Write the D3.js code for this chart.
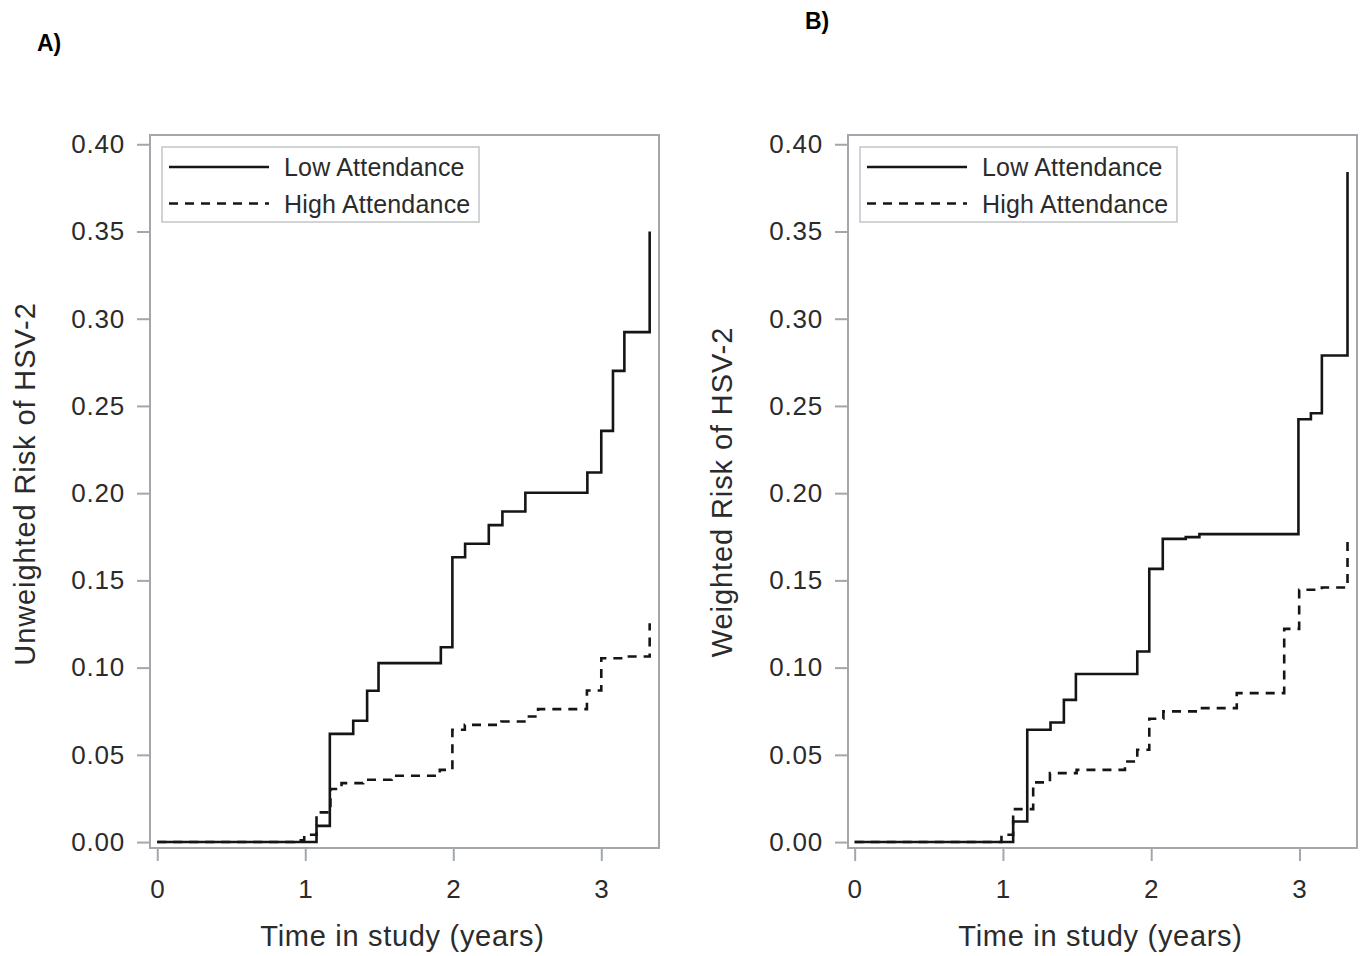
<!DOCTYPE html>
<html>
<head>
<meta charset="utf-8">
<script src="https://cdn.jsdelivr.net/npm/d3@7"></script>
<style>
    body { margin: 0; background: #fff; }
    svg { display: block; font-family: "Liberation Sans", Arial, sans-serif; }
</style>
</head>
<body>
<svg width="1363" height="956"></svg>
<script>
// Time in study (years) where each step happens, and the risk after the step
var yTicks = [0, 0.05, 0.10, 0.15, 0.20, 0.25, 0.30, 0.35, 0.40];
var xTicks = [0, 1, 2, 3];
var seriesNames = ["Low Attendance", "High Attendance"];

var lowA = [
    [0, 0], [1.076, 0.0093], [1.166, 0.062], [1.324, 0.0695], [1.418, 0.0867],
    [1.495, 0.1026], [1.916, 0.1117], [1.994, 0.1633], [2.080, 0.171],
    [2.240, 0.1817], [2.332, 0.1895], [2.487, 0.2002], [2.906, 0.2118],
    [3.0, 0.2357], [3.079, 0.2701], [3.156, 0.2923], [3.327, 0.35]
];

var highA = [
    [0, 0], [0.924, 0.001], [0.993, 0.0042], [1.076, 0.017], [1.17, 0.0304],
    [1.245, 0.0338], [1.391, 0.0357], [1.583, 0.038], [1.909, 0.0414],
    [1.994, 0.0644], [2.078, 0.0672], [2.325, 0.0691], [2.494, 0.072],
    [2.573, 0.0762], [2.903, 0.0869], [3.0, 0.1054], [3.147, 0.1064],
    [3.327, 0.1255]
];

var lowB = [
    [0, 0], [1.069, 0.0118], [1.164, 0.0644], [1.321, 0.0685], [1.411, 0.0815],
    [1.492, 0.0963], [1.906, 0.1092], [1.987, 0.1566], [2.078, 0.1738],
    [2.233, 0.1748], [2.325, 0.1765], [2.993, 0.2424], [3.077, 0.2458],
    [3.151, 0.2789], [3.324, 0.3841]
];

var highB = [
    [0, 0], [0.99, 0.0042], [1.069, 0.0189], [1.204, 0.0342], [1.317, 0.0395],
    [1.497, 0.0414], [1.823, 0.0462], [1.906, 0.0529], [1.987, 0.0707],
    [2.082, 0.0749], [2.33, 0.0768], [2.577, 0.0854], [2.897, 0.1222],
    [2.998, 0.1446], [3.151, 0.1459], [3.324, 0.1732]
];

var svg = d3.select("svg");
var frameColor = "#a3a7ab";
var textColor = "#2b2b2b";
var lineColor = "#151515";
var dash = "9,7";

function drawPanel(p) {
    var xScale = d3.scaleLinear().domain(p.xDomain).range([p.left, p.right]);
    var yScale = d3.scaleLinear().domain([-0.0034, 0.4053]).range([p.bottom, p.top]);

    var g = svg.append("g");

    // Y axis
    var yAxis = g.append("g")
        .attr("transform", "translate(" + p.left + ",0)")
        .call(d3.axisLeft(yScale).tickValues(yTicks).tickFormat(d3.format(".2f"))
            .tickSize(13).tickPadding(12));
    // X axis
    var xAxis = g.append("g")
        .attr("transform", "translate(0," + p.bottom + ")")
        .call(d3.axisBottom(xScale).tickValues(xTicks).tickFormat(d3.format("d"))
            .tickSize(13).tickPadding(19));

    [yAxis, xAxis].forEach(function (ax) {
        ax.select(".domain").remove();
        ax.selectAll("line").attr("stroke", frameColor).attr("stroke-width", 2);
        ax.selectAll("text")
            .attr("fill", textColor)
            .style("font-size", "26px")
            .style("letter-spacing", "0.8px")
            .style("font-family", "'Liberation Sans', Arial, sans-serif");
    });

    // Frame
    g.append("rect")
        .attr("x", p.left)
        .attr("y", p.top)
        .attr("width", p.right - p.left)
        .attr("height", p.bottom - p.top)
        .attr("fill", "none")
        .attr("stroke", frameColor)
        .attr("stroke-width", 2);

    var line = d3.line()
        .x(d => xScale(d[0]))
        .y(d => yScale(d[1]))
        .curve(d3.curveStepAfter);

    // High attendance first, low attendance on top
    g.append("path")
        .attr("d", line(p.high))
        .attr("fill", "none")
        .attr("stroke", lineColor)
        .attr("stroke-width", 2.6)
        .attr("stroke-dasharray", dash);

    g.append("path")
        .attr("d", line(p.low))
        .attr("fill", "none")
        .attr("stroke", lineColor)
        .attr("stroke-width", 2.6);

    // Legend
    var lx = p.left + 12;
    var ly = p.top + 12;
    g.append("rect")
        .attr("x", lx)
        .attr("y", ly)
        .attr("width", 317)
        .attr("height", 75)
        .attr("fill", "#fff")
        .attr("stroke", "#c2c5c8")
        .attr("stroke-width", 1.5);

    seriesNames.forEach(function (name, i) {
        var rowY = ly + 20 + i * 36.5;
        g.append("line")
            .attr("x1", lx + 7)
            .attr("x2", lx + 107)
            .attr("y1", rowY)
            .attr("y2", rowY)
            .attr("stroke", lineColor)
            .attr("stroke-width", 2.4)
            .attr("stroke-dasharray", i === 1 ? dash : null);
        g.append("text")
            .attr("x", lx + 122)
            .attr("y", rowY + 9)
            .attr("fill", textColor)
            .style("font-size", "25px")
            .style("letter-spacing", "0.2px")
            .text(name);
    });

    // Axis titles
    g.append("text")
        .attr("transform", "translate(" + p.yLabelX + "," + p.yLabelY + ") rotate(-90)")
        .attr("text-anchor", "middle")
        .attr("fill", textColor)
        .style("font-size", "29px")
        .style("letter-spacing", "0.9px")
        .text(p.yTitle);

    g.append("text")
        .attr("x", (p.left + p.right) / 2 - 2)
        .attr("y", 946)
        .attr("text-anchor", "middle")
        .attr("fill", textColor)
        .style("font-size", "29px")
        .style("letter-spacing", "0.7px")
        .text("Time in study (years)");

    // Panel letter
    g.append("text")
        .attr("x", p.tagX)
        .attr("y", p.tagY)
        .attr("fill", "#000")
        .style("font-size", "23px")
        .style("font-weight", "bold")
        .style("font-family", "'Liberation Sans Narrow', 'Liberation Sans', Arial, sans-serif")
        .text(p.tag);
}

drawPanel({
    left: 150, right: 659, top: 135, bottom: 848,
    xDomain: [-0.049, 3.39],
    low: lowA, high: highA,
    yTitle: "Unweighted Risk of HSV-2",
    yLabelX: 35, yLabelY: 484,
    tag: "A)", tagX: 37, tagY: 51
});

drawPanel({
    left: 848, right: 1357, top: 135, bottom: 848,
    xDomain: [-0.045, 3.388],
    low: lowB, high: highB,
    yTitle: "Weighted Risk of HSV-2",
    yLabelX: 732, yLabelY: 492,
    tag: "B)", tagX: 805, tagY: 29
});
</script>
</body>
</html>
